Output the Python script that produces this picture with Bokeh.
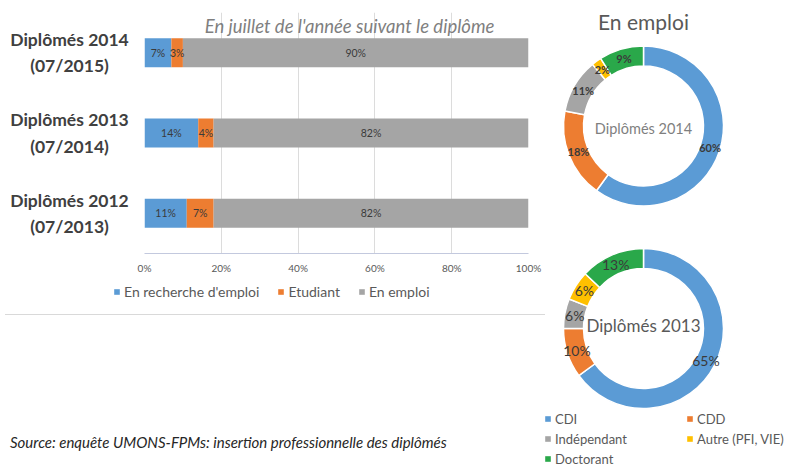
import numpy as np
from bokeh.plotting import figure
from bokeh.models import (ColumnDataSource, FactorRange, Range1d, FixedTicker,
                          PrintfTickFormatter, Legend, LegendItem, Div)
from bokeh.layouts import row, column
from bokeh.embed import file_html
from bokeh.resources import INLINE
from bokeh.core.properties import value

FONT = "Lato"

# ---------------- data ----------------
cohorts = ["Diplômés 2014\n(07/2015)", "Diplômés 2013\n(07/2014)", "Diplômés 2012\n(07/2013)"]
recherche = [7, 14, 11]
etudiant = [3, 4, 7]
emploi = [90, 82, 82]
status_labels = ["En recherche d'emploi", "Etudiant", "En emploi"]
status_colors = ["#5B9BD5", "#ED7D31", "#A5A5A5"]
x_ticks = [0, 20, 40, 60, 80, 100]

contract_types = ["CDI", "CDD", "Indépendant", "Autre (PFI, VIE)", "Doctorant"]
contract_colors = ["#5B9BD5", "#ED7D31", "#A5A5A5", "#FFC000", "#2AA84A"]
emploi_2014 = [60, 18, 11, 2, 9]
emploi_2013 = [65, 10, 6, 6, 13]

subtitle = "En juillet de l'année suivant le diplôme"
donut_title = "En emploi"
source_text = "Source: enquête UMONS-FPMs: insertion professionnelle des diplômés"


def bare(p):
    p.grid.visible = False
    p.outline_line_color = None
    return p


# ---------------- bar chart ----------------
yr = FactorRange(factors=cohorts[::-1], range_padding=0)

bar = figure(width=422, height=278, x_range=Range1d(0, 100), y_range=yr,
             toolbar_location=None, output_backend="svg",
             min_border_left=10, min_border_right=28, min_border_top=12,
             min_border_bottom=25, y_axis_location=None)
bar.outline_line_color = None
bar.ygrid.visible = False
bar.xgrid.ticker = FixedTicker(ticks=x_ticks)
bar.xgrid.grid_line_color = "#dcdcdc"

src = ColumnDataSource(dict(cohort=cohorts, recherche=recherche,
                            etudiant=etudiant, emploi=emploi))
rs = bar.hbar_stack(["recherche", "etudiant", "emploi"], y="cohort", height=0.36,
                    color=status_colors, line_color=None, source=src)

lx, ly, lt = [], [], []
for i, c in enumerate(cohorts):
    left = 0
    for v in (recherche[i], etudiant[i], emploi[i]):
        lx.append(left + v / 2)
        ly.append(c)
        lt.append(f"{v}%")
        left += v
bar.text(x=lx, y=ly, text=lt, text_align="center", text_baseline="middle",
         text_font_size="10.5px", text_color="#3a3a3a", text_font=value(FONT))

bar.text(x=[53.4], y=[2.826], text=[subtitle], text_align="center", text_baseline="middle",
         text_font_size="18.5px", text_font_style="italic", text_color="#7f7f7f",
         text_font=value(FONT))

ax = bar.xaxis[0]
ax.ticker = FixedTicker(ticks=x_ticks)
ax.formatter = PrintfTickFormatter(format="%d%%")
ax.axis_line_color = "#c3c9de"
ax.major_tick_line_color = None
ax.minor_tick_line_color = None
ax.major_tick_out = 0
ax.major_label_standoff = 8
ax.major_label_text_font_size = "10px"
ax.major_label_text_color = "#595959"
ax.major_label_text_font = FONT

lab = bare(figure(width=134, height=278, x_range=Range1d(0, 1), y_range=yr,
                  toolbar_location=None, output_backend="svg",
                  min_border_left=0, min_border_right=0, min_border_top=12,
                  min_border_bottom=25, x_axis_location=None, y_axis_location=None))
lab.text(x=[0.515] * len(cohorts), y=cohorts, text=cohorts, text_align="center",
         text_baseline="middle", text_font_size="17.5px", text_font_style="bold",
         text_color="#404040", text_font=value(FONT), text_line_height=1.25)

# legend strip for the bar chart (own figure, dummy renderers carrying the colours)
bl = bare(figure(width=556, height=31, x_range=Range1d(0, 1), y_range=Range1d(0, 1),
                 toolbar_location=None, output_backend="svg", min_border=0,
                 x_axis_location=None, y_axis_location=None))
nan3 = [np.nan] * len(status_labels)
bq = bl.quad(left=nan3, right=nan3, top=nan3, bottom=nan3, color=status_colors, line_color=None)
leg = Legend(items=[LegendItem(label=l, renderers=[bq], index=i)
                    for i, l in enumerate(status_labels)],
             orientation="horizontal", location=(113, 9), margin=0, padding=0,
             spacing=18, glyph_width=7, glyph_height=7, label_standoff=4,
             label_height=17, label_text_font_size="14px", label_text_color="#595959",
             label_text_font=FONT, border_line_color=None, background_fill_alpha=0)
bl.add_layout(leg)

sep = Div(width=540, height=1, styles={"background-color": "#d9d9d9"})


# ---------------- donuts ----------------
def donut(values, height, cx, cy, label_size, label_style, center_text, center_size, center_dy,
          center_color):
    w = 240
    p = bare(figure(width=w, height=height, x_range=Range1d(-cx, w - cx),
                    y_range=Range1d(cy - height, cy), toolbar_location=None,
                    output_backend="svg", min_border=0, x_axis_location=None,
                    y_axis_location=None))
    frac = np.array(values, dtype=float) / sum(values)
    cum = np.concatenate([[0.0], np.cumsum(frac)])
    start = np.pi / 2 - 2 * np.pi * cum[:-1]
    end = np.pi / 2 - 2 * np.pi * cum[1:]
    ds = ColumnDataSource(dict(start=start, end=end, color=contract_colors, cat=contract_types))
    p.annular_wedge(x=0, y=0, inner_radius=60, outer_radius=80, start_angle="start",
                    end_angle="end", direction="clock", color="color",
                    line_color="white", line_width=1.5, source=ds)
    mid = (start + end) / 2
    p.text(x=70 * np.cos(mid), y=70 * np.sin(mid), text=[f"{v}%" for v in values],
           text_align="center", text_baseline="middle", text_font_size=label_size,
           text_font_style=label_style, text_color="#3a3a3a", text_font=value(FONT))
    p.text(x=[0], y=[center_dy], text=[center_text], text_align="center",
           text_baseline="middle", text_font_size=center_size, text_color=center_color,
           text_font=value(FONT))
    return p


d1 = donut(emploi_2014, 228, 87, 125.5, "11px", "bold", "Diplômés 2014", "14.5px", -2.5,
           "#7f7f7f")
d1.text(x=[0], y=[104.5], text=[donut_title], text_align="center", text_baseline="middle",
        text_font_size="21px", text_color="#595959", text_font=value(FONT))
d2 = donut(emploi_2013, 182, 87, 100, "14px", "normal", "Diplômés 2013", "17px", 3, "#595959")

# legend strip for the donuts
lf = bare(figure(width=271, height=58, x_range=Range1d(0, 1), y_range=Range1d(0, 1),
                 toolbar_location=None, output_backend="svg", min_border=0,
                 x_axis_location=None, y_axis_location=None))
nan5 = [np.nan] * len(contract_types)
qr = lf.quad(left=nan5, right=nan5, top=nan5, bottom=nan5, color=contract_colors, line_color=None)
leg2 = Legend(items=[LegendItem(label=t, renderers=[qr], index=i)
                     for i, t in enumerate(contract_types)],
              orientation="horizontal", ncols=2, location=(9, 1), margin=0, padding=0,
              spacing=3, glyph_width=7, glyph_height=7, label_standoff=4,
              label_width=128, label_height=17, label_text_font_size="13px",
              label_text_color="#595959", label_text_font=FONT,
              border_line_color=None, background_fill_alpha=0)
lf.add_layout(leg2)

src_div = Div(width=525, height=58,
              text=('<div style="padding-top:18px;padding-left:5px;font-family:Lato;'
                    'font-style:italic;font-size:15px;line-height:18px;color:#262626;'
                    'white-space:nowrap;">' + source_text + '</div>'))

layout = column(
    row(column(row(lab, bar), bl, sep), column(d1, d2)),
    row(src_div, lf),
)

open("out.html", "w").write(file_html(layout, INLINE))
